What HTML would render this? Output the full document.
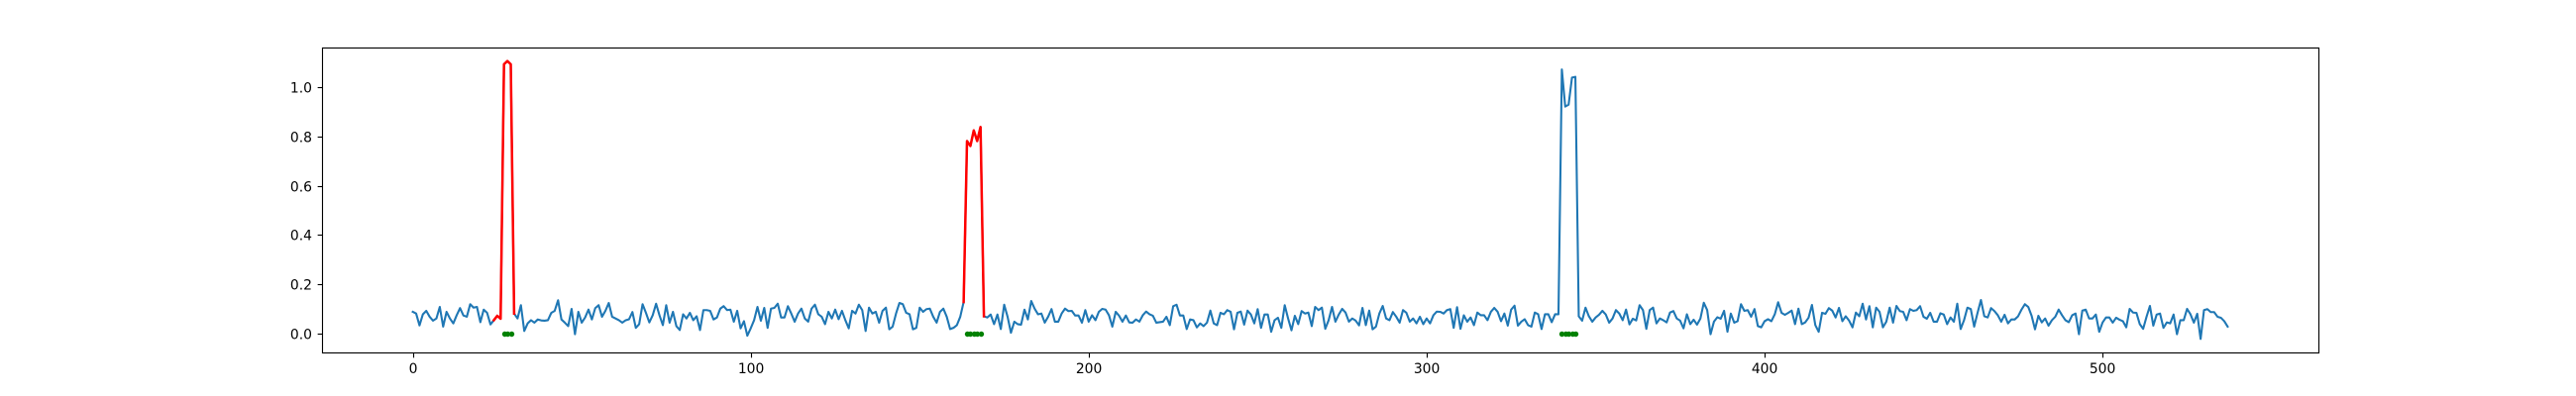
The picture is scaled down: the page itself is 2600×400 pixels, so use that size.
<!DOCTYPE html>
<html lang="en">
<head>
<meta charset="utf-8">
<title>Time series with anomalies</title>
<style>
  html, body { margin: 0; padding: 0; background: #fff; }
  #chart { display: block; width: 2600px; height: 400px; }
  text { font-family: "DejaVu Sans", "Liberation Sans", sans-serif; font-size: 13.89px; fill: #000; }
</style>
</head>
<body>
<svg id="chart" xmlns="http://www.w3.org/2000/svg" width="2600" height="400" viewBox="0 0 2600 400"></svg>
<script>
const seriesValues = [
.090,.083,.035,.080,.094,.070,.054,.063,.110,.030,.090,.063,.043,.076,.105,.075,.070,.121,.107,.110,
.048,.099,.086,.039,.056,.074,.062,1.096,1.109,1.096,.083,.063,.117,.012,.043,.056,.046,.059,.055,.054,
.056,.086,.094,.137,.059,.046,.032,.102,-.001,.090,.046,.067,.099,.059,.105,.117,.070,.094,.126,.070,
.063,.056,.046,.056,.060,.089,.025,.040,.121,.086,.047,.076,.123,.076,.036,.117,.046,.090,.032,.016,
.080,.063,.086,.056,.072,.016,.097,.097,.094,.059,.067,.103,.113,.097,.099,.050,.094,.023,.052,-.007,
.023,.056,.110,.054,.106,.025,.103,.106,.123,.067,.067,.113,.083,.050,.083,.103,.063,.050,.103,.119,
.080,.070,.040,.090,.063,.099,.060,.094,.056,.023,.094,.083,.119,.097,.012,.107,.083,.090,.046,.094,
.107,.019,.030,.083,.126,.121,.086,.080,.019,.025,.107,.090,.101,.103,.070,.046,.090,.103,.070,.020,
.025,.036,.070,.130,.784,.764,.827,.784,.841,.072,.067,.079,.040,.079,.020,.119,.070,.005,.050,.040,
.038,.099,.059,.134,.103,.080,.083,.046,.070,.101,.050,.050,.083,.103,.093,.094,.075,.075,.046,.097,
.050,.076,.056,.090,.102,.099,.076,.030,.090,.074,.050,.075,.047,.046,.059,.050,.076,.091,.080,.074,
.046,.048,.050,.070,.036,.113,.119,.075,.075,.020,.059,.056,.027,.043,.032,.046,.095,.043,.036,.086,
.080,.097,.090,.019,.086,.091,.038,.095,.079,.043,.101,.025,.079,.079,.009,.056,.066,.025,.117,.063,
.015,.074,.040,.093,.083,.087,.032,.110,.097,.107,.021,.056,.110,.050,.079,.102,.087,.050,.063,.054,
.035,.106,.036,.095,.019,.030,.083,.114,.063,.056,.089,.070,.046,.097,.086,.050,.063,.043,.070,.040,
.063,.043,.076,.091,.090,.083,.097,.101,.025,.109,.021,.076,.050,.067,.036,.087,.076,.076,.056,.090,
.106,.090,.052,.083,.034,.099,.115,.034,.050,.060,.036,.030,.087,.080,.020,.080,.080,.048,.080,.080,
1.075,.924,.932,1.042,1.045,.072,.054,.107,.072,.050,.067,.078,.094,.079,.046,.063,.097,.083,.056,.099,
.039,.062,.055,.117,.097,.021,.097,.107,.043,.063,.056,.047,.087,.093,.063,.054,.023,.080,.040,.058,
.038,.063,.127,.097,-.001,.050,.068,.062,.094,.009,.083,.046,.052,.121,.094,.097,.070,.101,.032,.027,
.052,.060,.052,.080,.129,.086,.078,.086,.095,.040,.103,.040,.047,.066,.118,.036,.009,.086,.082,.105,
.095,.067,.106,.052,.072,.054,.027,.087,.072,.123,.059,.113,.027,.107,.090,.027,.050,.107,.046,.114,
.093,.090,.056,.101,.094,.097,.113,.070,.062,.086,.050,.050,.084,.079,.040,.067,.050,.123,.020,.056,
.107,.101,.030,.086,.138,.072,.067,.105,.093,.076,.050,.078,.043,.059,.059,.072,.099,.121,.110,.074,
.019,.074,.047,.063,.034,.056,.070,.099,.076,.056,.048,.076,.083,-.001,.095,.099,.063,.063,.079,.009,
.047,.067,.067,.046,.066,.058,.052,.027,.102,.087,.086,.040,.021,.070,.114,.034,.079,.083,.025,.047,
.043,.079,-.001,.056,.056,.102,.080,.046,.082,-.020,.097,.101,.089,.089,.070,.066,.052,.030
];
const redRanges = [[24, 30], [163, 169]];
const anomalyIndices = [27, 28, 29, 164, 165, 166, 167, 168, 340, 341, 342, 343, 344];
const anomalyLevels = [0, 0, 0, 0, 0, 0, 0, 0, 0, 0, 0, 0, 0];
const xTickValues = [0, 100, 200, 300, 400, 500];
const xTickLabels = ["0", "100", "200", "300", "400", "500"];
const yTickValues = [0, 0.2, 0.4, 0.6, 0.8, 1.0];
const yTickLabels = ["0.0", "0.2", "0.4", "0.6", "0.8", "1.0"];

const NS = "http://www.w3.org/2000/svg";
const svg = document.getElementById("chart");
const plot = { left: 325.5, right: 2340.5, top: 48.5, bottom: 356.5 };
const xMin = -0.05 * (seriesValues.length - 1);
const xMax = 1.05 * (seriesValues.length - 1);
const yMin = -0.075;
const yMax = 1.164;

function xScale(v) {
  return 325 + (v - xMin) / (xMax - xMin) * 2015;
}
function yScale(v) {
  return 356 - (v - yMin) / (yMax - yMin) * 308;
}
function make(tag, attrs) {
  const el = document.createElementNS(NS, tag);
  for (const k in attrs) el.setAttribute(k, attrs[k]);
  svg.appendChild(el);
  return el;
}
function pointsFor(from, to) {
  const pts = [];
  for (let i = from; i <= to; i++) {
    pts.push(xScale(i).toFixed(2) + "," + yScale(seriesValues[i]).toFixed(2));
  }
  return pts.join(" ");
}

const blueLine = make("polyline", {
  points: pointsFor(0, seriesValues.length - 1),
  fill: "none", stroke: "#1f77b4", "stroke-width": 2.08,
  "stroke-linejoin": "round", "stroke-linecap": "square"
});



redRanges.forEach(function (range) {
  const red = make("polyline", {
    points: pointsFor(range[0], range[1]),
    fill: "none", stroke: "#ff0000", "stroke-width": 2.5,
    "stroke-linejoin": "round", "stroke-linecap": "square"
  });
  
  
});

anomalyIndices.forEach(function (idx, n) {
  const dot = make("circle", {
    cx: Math.floor(xScale(idx) + 0.5) + 0.5,
    cy: Math.floor(yScale(anomalyLevels[n])) + 0.5,
    r: 2.7, fill: "#008000"
  });
  
  
});

const frame = make("rect", {
  x: plot.left, y: plot.top, width: plot.right - plot.left, height: plot.bottom - plot.top,
  fill: "none", stroke: "#000", "stroke-width": 1.11
});



xTickValues.forEach(function (v, n) {
  const px = Math.floor(xScale(v) + 0.5) + 0.5;
  const tick = make("line", {
    x1: px, x2: px, y1: plot.bottom, y2: plot.bottom + 4.86,
    stroke: "#000", "stroke-width": 1.11
  });
  
  
  const label = make("text", { x: px - 0.4, y: 377, "text-anchor": "middle" });
  label.textContent = xTickLabels[n];
  
  
});

yTickValues.forEach(function (v, n) {
  const py = Math.floor(yScale(v)) + 0.5;
  const tick = make("line", {
    x1: plot.left - 4.86, x2: plot.left, y1: py, y2: py,
    stroke: "#000", "stroke-width": 1.11
  });
  
  
  const label = make("text", { x: 315, y: py + 5.2, "text-anchor": "end" });
  label.textContent = yTickLabels[n];
  
  
});
</script>
</body>
</html>
